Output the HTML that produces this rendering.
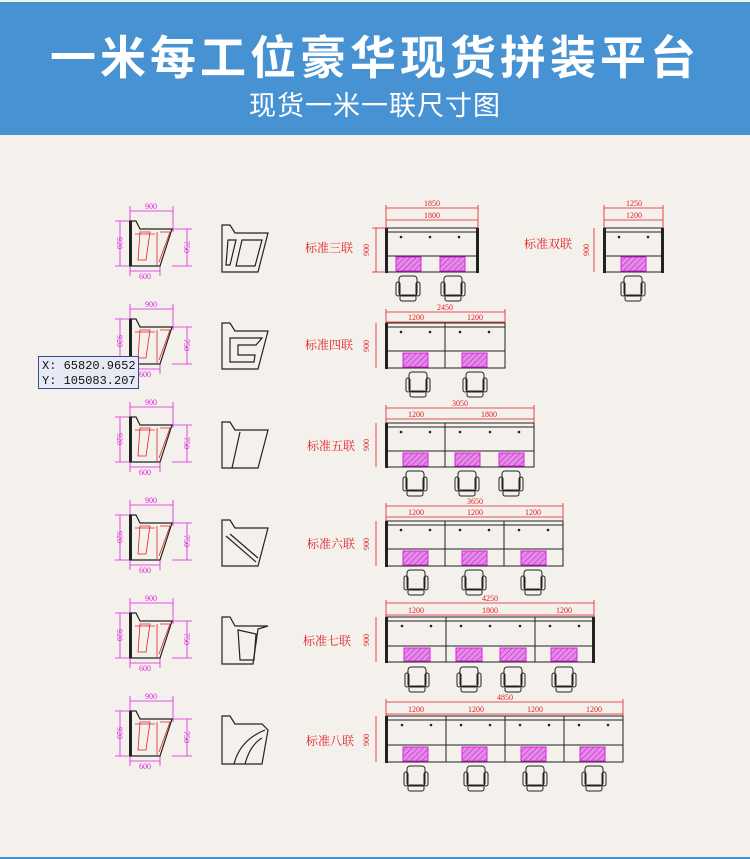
<!DOCTYPE html>
<html><head><meta charset="utf-8"><style>
html,body{margin:0;padding:0;}
body{width:750px;height:859px;background:#f4f0ec;position:relative;overflow:hidden;font-family:"Liberation Sans","Noto Sans CJK SC",sans-serif;}
.hdr{position:absolute;left:0;top:2px;width:750px;height:133px;background:#4792d2;color:#fff;text-align:center;}
.t1{position:absolute;left:0;width:750px;top:28px;font-size:46px;line-height:56px;font-weight:bold;letter-spacing:4px;}
.t2{position:absolute;left:0;width:750px;top:88px;font-size:27px;line-height:32px;letter-spacing:1px;}
.bot{position:absolute;left:0;top:857px;width:750px;height:2px;background:#4792d2;}
.tip{position:absolute;left:38px;top:356px;width:101px;height:33px;background:#e6eaf4;border:1px solid #3a4a8a;font-family:"Liberation Mono",monospace;font-size:12px;line-height:15px;padding:2px 0 0 3px;box-sizing:border-box;color:#111;white-space:nowrap;overflow:hidden;}
svg{position:absolute;left:0;top:0;}
</style></head><body>
<div class="hdr"><div class="t1">一米每工位豪华现货拼装平台</div><div class="t2">现货一米一联尺寸图</div></div>
<svg width="750" height="859" viewBox="0 0 750 859" font-family="Liberation Serif,Noto Serif CJK SC,serif">
<defs>
<pattern id="h" width="4" height="4" patternUnits="userSpaceOnUse" patternTransform="rotate(45)"><rect width="4" height="4" fill="#e58ae8"/><line x1="0" y1="0" x2="0" y2="4" stroke="#b020b8" stroke-width="1"/></pattern>
<g id="ch" fill="none" stroke="#222" stroke-width="1">
<rect x="-9" y="0" width="18" height="20" rx="3"/>
<rect x="-12" y="6" width="4" height="14" rx="2"/>
<rect x="8" y="6" width="4" height="14" rx="2"/>
<rect x="-8" y="19" width="16" height="6" rx="2"/>
</g>
<g id="L" fill="none" stroke-width="0.8">
<g stroke="#e020e0">
<line x1="130" y1="206" x2="130" y2="226"/><line x1="173" y1="206" x2="173" y2="232"/>
<line x1="130" y1="211" x2="173" y2="211"/>
<line x1="115" y1="221" x2="132" y2="221"/><line x1="115" y1="266" x2="132" y2="266"/>
<line x1="120" y1="221" x2="120" y2="266"/>
<line x1="172" y1="229" x2="192" y2="229"/><line x1="172" y1="266" x2="192" y2="266"/>
<line x1="187" y1="229" x2="187" y2="266"/>
<line x1="130" y1="266" x2="130" y2="276"/><line x1="160" y1="266" x2="160" y2="276"/>
<line x1="130" y1="271" x2="160" y2="271"/>
</g>
<path d="M130 221 L136 221 L140 229 L172 229 L160 266 L130 266 Z" stroke="#222" stroke-width="1.2"/>
<path d="M131 222 L131 265 M157 232 L157 265 M135 234 L155 234" stroke="#d22"/>
<path d="M140 232 L150 232 L146 260 L138 260 Z M160 232 L170 232 L159 262" stroke="#d22"/>
<rect x="129" y="221" width="3" height="45" fill="#222" stroke="none"/>
<g fill="#e020e0" stroke="none" font-size="8" text-anchor="middle">
<text x="151" y="209">900</text><text x="145" y="279">600</text>
<text transform="translate(117,243) rotate(90)">920</text>
<text transform="translate(184,247) rotate(90)">750</text>
</g>
</g>
</defs>
<use href="#L"/><use href="#L" y="98"/><use href="#L" y="196"/><use href="#L" y="294"/><use href="#L" y="392"/><use href="#L" y="490"/>
<g fill="none" stroke="#222" stroke-width="1.2">
<path d="M222 225 L230 225 L235 233 L268 233 L258 272 L222 272 Z"/><path d="M228 240 L236 240 L230 265 L226 265 Z M242 240 L262 240 L255 266 L236 266 Z"/>
<path d="M222 323 L230 323 L235 331 L268 331 L258 369 L222 369 Z"/><path d="M230 338 L262 338 L256 345 L238 345 L238 355 L255 355 L254 362 L230 362 Z"/>
<path d="M222 422 L230 422 L235 430 L268 430 L258 468 L222 468 Z"/><path d="M232 468 L240 432"/>
<path d="M222 520 L230 520 L235 528 L268 528 L258 566 L222 566 Z"/><path d="M226 536 L256 562 M230 534 L258 558"/>
<path d="M222 617 L230 617 L235 626 L268 626 L258 629 L253 664 L222 664 Z"/><path d="M238 630 L256 634 L254 660 L240 660 Z"/>
<path d="M222 716 L230 716 L235 724 L262 724 L268 730 L262 764 L222 764 Z"/><path d="M234 764 Q240 740 265 730 M245 764 Q250 745 262 738"/>
</g>
<g fill="#e02020" font-size="12" font-family="Liberation Serif,Noto Serif CJK SC,serif">
<text x="305" y="252">标准三联</text><text x="305" y="349">标准四联</text><text x="307" y="450">标准五联</text>
<text x="307" y="548">标准六联</text><text x="303" y="645">标准七联</text><text x="306" y="745">标准八联</text>
<text x="524" y="248">标准双联</text>
</g>
<g fill="none" stroke="#222" stroke-width="1">
<rect x="386" y="228" width="92" height="44"/><line x1="386" y1="232" x2="478" y2="232"/><line x1="386" y1="256" x2="478" y2="256"/>
<rect x="604" y="228" width="59" height="44"/><line x1="604" y1="232" x2="663" y2="232"/><line x1="604" y1="256" x2="663" y2="256"/>
<rect x="386" y="323" width="119" height="45"/><line x1="386" y1="327" x2="505" y2="327"/><line x1="386" y1="351" x2="505" y2="351"/><line x1="445" y1="323" x2="445" y2="368"/>
<rect x="386" y="423" width="148" height="44"/><line x1="386" y1="427" x2="534" y2="427"/><line x1="386" y1="451" x2="534" y2="451"/><line x1="445" y1="423" x2="445" y2="467"/>
<rect x="386" y="521" width="177" height="45"/><line x1="386" y1="525" x2="563" y2="525"/><line x1="386" y1="549" x2="563" y2="549"/><line x1="445" y1="521" x2="445" y2="566"/><line x1="504" y1="521" x2="504" y2="566"/>
<rect x="386" y="617" width="208" height="45"/><line x1="386" y1="621" x2="594" y2="621"/><line x1="386" y1="646" x2="594" y2="646"/><line x1="446" y1="617" x2="446" y2="662"/><line x1="535" y1="617" x2="535" y2="662"/>
<rect x="386" y="716" width="237" height="46"/><line x1="386" y1="720" x2="623" y2="720"/><line x1="386" y1="745" x2="623" y2="745"/><line x1="446" y1="716" x2="446" y2="762"/><line x1="505" y1="716" x2="505" y2="762"/><line x1="564" y1="716" x2="564" y2="762"/>
</g>
<g fill="#222" stroke="none">
<rect x="385" y="228" width="3" height="45"/><rect x="476" y="228" width="3" height="45"/><rect x="603" y="228" width="3" height="45"/><rect x="661" y="228" width="3" height="45"/>
<rect x="385" y="323" width="3" height="46"/><rect x="385" y="423" width="3" height="45"/><rect x="385" y="521" width="3" height="46"/><rect x="385" y="617" width="3" height="46"/><rect x="592" y="617" width="3" height="46"/><rect x="385" y="716" width="3" height="47"/>
<circle cx="401" cy="237" r="1.3"/><circle cx="430" cy="237" r="1.3"/><circle cx="459" cy="237" r="1.3"/>
<circle cx="619" cy="237" r="1.3"/><circle cx="648" cy="237" r="1.3"/>
<circle cx="401" cy="332" r="1.3"/><circle cx="430" cy="332" r="1.3"/><circle cx="460" cy="332" r="1.3"/><circle cx="489" cy="332" r="1.3"/>
<circle cx="401" cy="432" r="1.3"/><circle cx="430" cy="432" r="1.3"/><circle cx="460" cy="432" r="1.3"/><circle cx="490" cy="432" r="1.3"/><circle cx="519" cy="432" r="1.3"/>
<circle cx="401" cy="530" r="1.3"/><circle cx="430" cy="530" r="1.3"/><circle cx="460" cy="530" r="1.3"/><circle cx="489" cy="530" r="1.3"/><circle cx="519" cy="530" r="1.3"/><circle cx="548" cy="530" r="1.3"/>
<circle cx="402" cy="626" r="1.3"/><circle cx="431" cy="626" r="1.3"/><circle cx="461" cy="626" r="1.3"/><circle cx="490" cy="626" r="1.3"/><circle cx="520" cy="626" r="1.3"/><circle cx="550" cy="626" r="1.3"/><circle cx="579" cy="626" r="1.3"/>
<circle cx="402" cy="725" r="1.3"/><circle cx="431" cy="725" r="1.3"/><circle cx="461" cy="725" r="1.3"/><circle cx="490" cy="725" r="1.3"/><circle cx="520" cy="725" r="1.3"/><circle cx="549" cy="725" r="1.3"/><circle cx="579" cy="725" r="1.3"/><circle cx="608" cy="725" r="1.3"/>
</g>
<g fill="url(#h)" stroke="#e020e0" stroke-width="1">
<rect x="396" y="257" width="25" height="14"/><rect x="440" y="257" width="25" height="14"/><rect x="621" y="257" width="25" height="14"/>
<rect x="403" y="353" width="25" height="14"/><rect x="462" y="353" width="25" height="14"/>
<rect x="403" y="453" width="25" height="13"/><rect x="455" y="453" width="25" height="13"/><rect x="499" y="453" width="25" height="13"/>
<rect x="403" y="551" width="25" height="14"/><rect x="462" y="551" width="25" height="14"/><rect x="521" y="551" width="25" height="14"/>
<rect x="404" y="648" width="26" height="13"/><rect x="456" y="648" width="26" height="13"/><rect x="500" y="648" width="26" height="13"/><rect x="551" y="648" width="26" height="13"/>
<rect x="403" y="747" width="25" height="14"/><rect x="462" y="747" width="25" height="14"/><rect x="521" y="747" width="25" height="14"/><rect x="580" y="747" width="25" height="14"/>
</g>
<use href="#ch" x="408" y="276"/><use href="#ch" x="453" y="276"/><use href="#ch" x="633" y="276"/>
<use href="#ch" x="418" y="372"/><use href="#ch" x="475" y="372"/>
<use href="#ch" x="415" y="471"/><use href="#ch" x="467" y="471"/><use href="#ch" x="511" y="471"/>
<use href="#ch" x="416" y="570"/><use href="#ch" x="474" y="570"/><use href="#ch" x="533" y="570"/>
<use href="#ch" x="417" y="667"/><use href="#ch" x="469" y="667"/><use href="#ch" x="513" y="667"/><use href="#ch" x="564" y="667"/>
<use href="#ch" x="416" y="766"/><use href="#ch" x="476" y="766"/><use href="#ch" x="535" y="766"/><use href="#ch" x="594" y="766"/>
<g stroke="#e02020" stroke-width="0.8" fill="none">
<line x1="386" y1="208" x2="478" y2="208"/><line x1="386" y1="220" x2="478" y2="220"/><line x1="386" y1="205" x2="386" y2="228"/><line x1="478" y1="205" x2="478" y2="228"/>
<line x1="376" y1="228" x2="376" y2="272"/><line x1="372" y1="228" x2="386" y2="228"/><line x1="372" y1="272" x2="386" y2="272"/>
<line x1="604" y1="208" x2="663" y2="208"/><line x1="604" y1="220" x2="663" y2="220"/><line x1="604" y1="205" x2="604" y2="228"/><line x1="663" y1="205" x2="663" y2="228"/>
<line x1="594" y1="228" x2="594" y2="272"/>
<line x1="386" y1="312" x2="505" y2="312"/><line x1="386" y1="322" x2="505" y2="322"/><line x1="386" y1="309" x2="386" y2="323"/><line x1="505" y1="309" x2="505" y2="323"/><line x1="376" y1="323" x2="376" y2="368"/>
<line x1="386" y1="408" x2="534" y2="408"/><line x1="386" y1="419" x2="534" y2="419"/><line x1="386" y1="405" x2="386" y2="423"/><line x1="534" y1="405" x2="534" y2="423"/><line x1="376" y1="423" x2="376" y2="467"/>
<line x1="386" y1="506" x2="563" y2="506"/><line x1="386" y1="517" x2="563" y2="517"/><line x1="386" y1="503" x2="386" y2="521"/><line x1="563" y1="503" x2="563" y2="521"/><line x1="376" y1="521" x2="376" y2="566"/>
<line x1="386" y1="603" x2="594" y2="603"/><line x1="386" y1="615" x2="594" y2="615"/><line x1="386" y1="600" x2="386" y2="617"/><line x1="594" y1="600" x2="594" y2="617"/><line x1="376" y1="617" x2="376" y2="662"/>
<line x1="386" y1="702" x2="623" y2="702"/><line x1="386" y1="714" x2="623" y2="714"/><line x1="386" y1="699" x2="386" y2="716"/><line x1="623" y1="699" x2="623" y2="716"/><line x1="376" y1="716" x2="376" y2="762"/>
</g>
<g fill="#e02020" font-size="8" text-anchor="middle">
<text x="432" y="206">1850</text><text x="432" y="218">1800</text><text transform="translate(369,250) rotate(-90)">900</text>
<text x="634" y="206">1250</text><text x="634" y="218">1200</text><text transform="translate(589,250) rotate(-90)">900</text>
<text x="445" y="310">2450</text><text x="416" y="320">1200</text><text x="475" y="320">1200</text><text transform="translate(369,346) rotate(-90)">900</text>
<text x="460" y="406">3050</text><text x="416" y="417">1200</text><text x="489" y="417">1800</text><text transform="translate(369,445) rotate(-90)">900</text>
<text x="475" y="504">3650</text><text x="416" y="515">1200</text><text x="475" y="515">1200</text><text x="533" y="515">1200</text><text transform="translate(369,544) rotate(-90)">900</text>
<text x="490" y="601">4250</text><text x="416" y="613">1200</text><text x="490" y="613">1800</text><text x="564" y="613">1200</text><text transform="translate(369,640) rotate(-90)">900</text>
<text x="505" y="700">4850</text><text x="416" y="712">1200</text><text x="476" y="712">1200</text><text x="535" y="712">1200</text><text x="594" y="712">1200</text><text transform="translate(369,740) rotate(-90)">900</text>
</g>
</svg>
<div class="tip">X: 65820.9652<br>Y: 105083.207</div>
<div class="bot"></div>
</body></html>
